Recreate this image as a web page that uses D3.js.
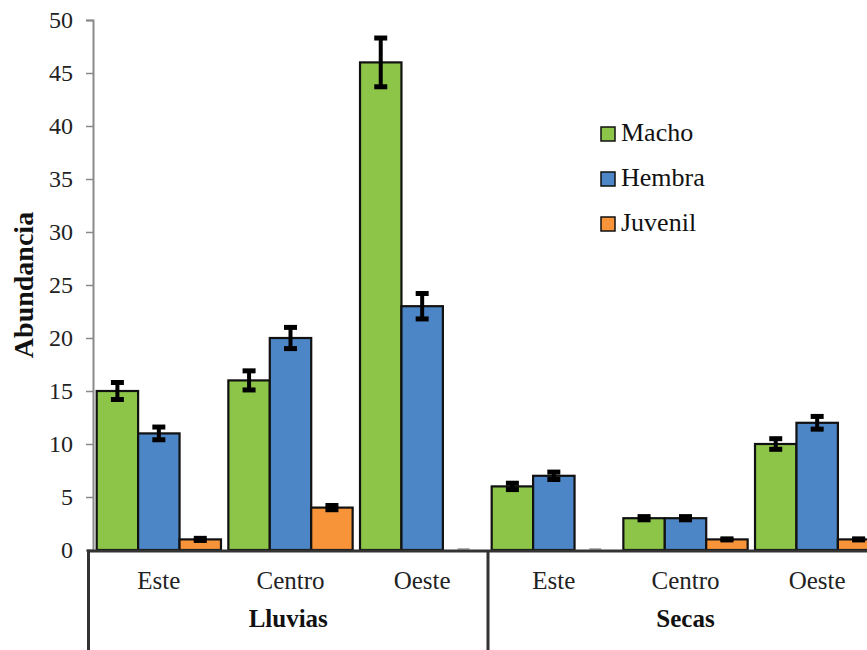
<!DOCTYPE html>
<html>
<head>
<meta charset="utf-8">
<script src="https://cdn.jsdelivr.net/npm/d3@7"></script>
<style>
  html, body { margin: 0; padding: 0; background: #fff; }
  svg { display: block; }
</style>
</head>
<body>
<svg id="chart" width="867" height="650"></svg>
<script>
// Abundance by season and zone, split by sex/age class
const seasons = ["Lluvias", "Secas"];
const zones = ["Este", "Centro", "Oeste"];
const seriesNames = ["Macho", "Hembra", "Juvenil"];
const seriesColors = ["#8cc548", "#4d86c6", "#f7943a"];

// values per series, ordered Lluvias (Este, Centro, Oeste), Secas (Este, Centro, Oeste)
const macho   = [15, 16, 46, 6, 3, 10];
const hembra  = [11, 20, 23, 7, 3, 12];
const juvenil = [1, 4, 0, 0, 1, 1];
// standard errors
const machoErr   = [0.8, 0.9, 2.3, 0.3, 0.15, 0.5];
const hembraErr  = [0.6, 1.0, 1.2, 0.35, 0.15, 0.6];
const juvenilErr = [0.1, 0.2, 0, 0, 0.05, 0.05];

const yTicks = [0, 5, 10, 15, 20, 25, 30, 35, 40, 45, 50];

const values = [macho, hembra, juvenil];
const errors = [machoErr, hembraErr, juvenilErr];
const FONT = "'Liberation Serif', 'Times New Roman', Tinos, 'DejaVu Serif', serif";

const categories = [];
seasons.forEach(s => zones.forEach(z => categories.push(s + "|" + z)));

const svg = d3.select("#chart");
const margin = { left: 93, top: 20 };
const plotRight = 883;
const y0 = 550;

const x = d3.scaleBand().domain(categories).range([margin.left, plotRight]).paddingInner(0.056).paddingOuter(0.028);
const xs = d3.scaleBand().domain(seriesNames).range([0, x.bandwidth()]).padding(0);
const y = d3.scaleLinear().domain([0, 50]).range([y0, margin.top]);

// y axis
const yAxis = d3.axisLeft(y).tickValues(yTicks).tickSize(7).tickPadding(13);
const gy = svg.append("g").attr("transform", `translate(${margin.left},0)`).call(yAxis);
gy.attr("font-family", null).attr("font-size", null);
gy.select(".domain").attr("stroke", "#8a8a8a").attr("stroke-width", 2);
gy.selectAll(".tick line").attr("stroke", "#8a8a8a").attr("stroke-width", 1.5);
gy.selectAll(".tick text").style("font-family", FONT).style("font-size", "24px").attr("fill", "#222");

// bars
const bars = [];
categories.forEach((c, ci) => {
  seriesNames.forEach((s, si) => {
    bars.push({ c, s, si, v: values[si][ci], e: errors[si][ci] });
  });
});

const g = svg.append("g");
g.selectAll("rect.bar").data(bars.filter(d => d.v > 0)).join("rect")
  .attr("class", "bar")
  .attr("x", d => x(d.c) + xs(d.s))
  .attr("y", d => y(d.v))
  .attr("width", xs.bandwidth())
  .attr("height", d => y(0) - y(d.v))
  .attr("fill", d => seriesColors[d.si])
  .attr("stroke", "#111")
  .attr("stroke-width", 2.2);

// zero-value markers
g.selectAll("line.zero").data(bars.filter(d => d.v === 0)).join("line")
  .attr("class", "zero")
  .attr("x1", d => x(d.c) + xs(d.s) + xs.bandwidth() / 2 - 6)
  .attr("x2", d => x(d.c) + xs(d.s) + xs.bandwidth() / 2 + 6)
  .attr("y1", y0 - 1).attr("y2", y0 - 1)
  .attr("stroke", "#999").attr("stroke-width", 1.5);

// error bars
const eb = g.selectAll("g.err").data(bars.filter(d => d.v > 0)).join("g").attr("class", "err");
const cx = d => x(d.c) + xs(d.s) + xs.bandwidth() / 2;
eb.append("line")
  .attr("x1", cx).attr("x2", cx)
  .attr("y1", d => y(d.v + d.e)).attr("y2", d => y(d.v - d.e))
  .attr("stroke", "#000").attr("stroke-width", 4);
eb.append("line")
  .attr("x1", d => cx(d) - 6.5).attr("x2", d => cx(d) + 6.5)
  .attr("y1", d => y(d.v + d.e)).attr("y2", d => y(d.v + d.e))
  .attr("stroke", "#000").attr("stroke-width", 5);
eb.append("line")
  .attr("x1", d => cx(d) - 6.5).attr("x2", d => cx(d) + 6.5)
  .attr("y1", d => y(d.v - d.e)).attr("y2", d => y(d.v - d.e))
  .attr("stroke", "#000").attr("stroke-width", 5);

// category axis box
const axisColor = "#333";
svg.append("line").attr("x1", 87).attr("x2", 867).attr("y1", y0 + 1).attr("y2", y0 + 1)
  .attr("stroke", axisColor).attr("stroke-width", 3);
const dividers = [88.5, (x(categories[2]) + x.bandwidth() + x(categories[3])) / 2];
svg.selectAll("line.div").data(dividers).join("line").attr("class", "div")
  .attr("x1", d => d).attr("x2", d => d).attr("y1", y0).attr("y2", 650)
  .attr("stroke", axisColor).attr("stroke-width", 3);

// zone labels
svg.selectAll("text.zone").data(categories).join("text").attr("class", "zone")
  .attr("x", d => x(d) + x.bandwidth() / 2)
  .attr("y", 589)
  .attr("text-anchor", "middle")
  .style("font-family", FONT).style("font-size", "25px").attr("fill", "#222")
  .text(d => d.split("|")[1]);

// season labels
const seasonEdges = [[88.5, dividers[1]], [dividers[1], plotRight]];
svg.selectAll("text.season").data(seasons).join("text").attr("class", "season")
  .attr("x", (d, i) => (seasonEdges[i][0] + seasonEdges[i][1]) / 2)
  .attr("y", 627)
  .attr("text-anchor", "middle")
  .style("font-family", FONT).style("font-size", "25px").style("font-weight", "bold").attr("fill", "#111")
  .text(d => d);

// y axis title
svg.append("text")
  .attr("transform", "translate(33,285) rotate(-90)")
  .attr("text-anchor", "middle")
  .style("font-family", FONT).style("font-size", "28px").style("font-weight", "bold").attr("fill", "#111")
  .text("Abundancia");

// legend
const lg = svg.append("g").attr("transform", "translate(601,127)");
const li = lg.selectAll("g").data(seriesNames).join("g")
  .attr("transform", (d, i) => `translate(0,${i * 45})`);
li.append("rect").attr("width", 14).attr("height", 14)
  .attr("fill", (d, i) => seriesColors[i]).attr("stroke", "#111").attr("stroke-width", 1.5);
li.append("text").attr("x", 20).attr("y", 14)
  .style("font-family", FONT).style("font-size", "26px").attr("fill", "#111").text(d => d);
</script>
</body>
</html>
